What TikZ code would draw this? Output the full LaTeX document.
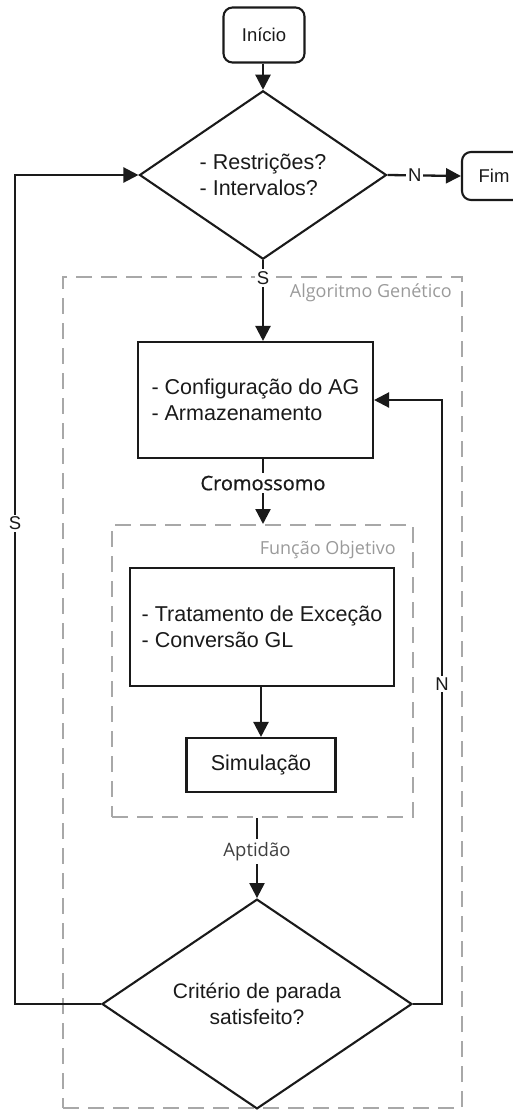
\documentclass[tikz,border=0pt]{standalone}
\usepackage{fontspec}
\setmainfont{Liberation Sans}
\newfontfamily\osans{Open Sans}
\newfontfamily\osansb[FakeBold=0.8]{Open Sans}
\usetikzlibrary{shapes.geometric,arrows.meta}
\definecolor{dashgray}{HTML}{A8A8A8}
\definecolor{lblgray}{HTML}{9A9A9A}
\definecolor{ink}{HTML}{1A1A1A}
\begin{document}
\begin{tikzpicture}[x=1pt,y=-1pt,
  term/.style={draw=ink, line width=2.1pt, rounded corners=9pt, inner sep=0pt, font=\fontsize{18.5}{22}\selectfont, text=ink},
  proc/.style={draw=ink, line width=2.1pt, inner sep=0pt, align=left, font=\fontsize{21.5}{26}\selectfont, text=ink},
  dec/.style={draw=ink, line width=2.1pt, diamond, inner sep=0pt, font=\fontsize{21.5}{26}\selectfont, text=ink},
  group/.style={draw=dashgray, line width=2pt, dash pattern=on 16pt off 9pt, inner sep=0pt},
  grouplbl/.style={text=lblgray, font=\osans\fontsize{18}{22}\selectfont, inner sep=0pt},
  conn/.style={draw=ink, line width=2.3pt, -{Triangle[length=15pt,width=15pt]}},
  lbl/.style={fill=white, inner sep=2pt, font=\fontsize{18.5}{22}\selectfont, text=ink},
  flowlbl/.style={fill=white, inner sep=3pt, font=\osansb\fontsize{20}{24}\selectfont, text=ink}
]
\useasboundingbox (0,0) rectangle (512,1111);

% groups
\node[group, minimum width=399pt, minimum height=831pt] (ag) at (262.5,692.5) {};
\node[grouplbl, anchor=east] (agl) at (452,293) {Algoritmo Genético};
\node[group, minimum width=301pt, minimum height=292pt] (fo) at (262.5,671) {};
\node[grouplbl, anchor=east] (fol) at (396,550) {Função Objetivo};

% nodes
\node[term, minimum width=81pt, minimum height=55pt] (inicio) at (264,35) {Início};
\node[dec, minimum width=247pt, minimum height=116pt, align=left] (d1) at (263,175) {- Restrições?\\- Intervalos?};
\node[term, minimum width=64pt, minimum height=48pt] (fim) at (494,176) {Fim};
\node[proc, minimum width=235pt, minimum height=116pt] (box1) at (255.5,400) {- Configuração do AG\\- Armazenamento};
\node[proc, minimum width=264pt, minimum height=118pt] (box2) at (262,627) {- Tratamento de Exceção\\- Conversão GL};
\node[proc, minimum width=149pt, minimum height=54pt] (sim) at (261,765) {Simulação};
\node[dec, minimum width=310pt, minimum height=156pt, align=center, font=\fontsize{21}{26}\selectfont] (d2) at (257,1004) {Critério de parada\\satisfeito?};

\coordinate (lb) at (15,1004);
\coordinate (lt) at (15,175);
\coordinate (rb) at (442,1004);
\coordinate (rt) at (442,400);

% connectors
\draw[conn] (inicio.south -| d1.north) -- (d1.north);
\draw[conn] (d1.east) -- node[lbl, pos=0.37] {N} (fim.west);
\draw[conn] (d1.south) -- node[lbl, pos=0.22] {S} (d1.south |- box1.north);
\draw[conn] (box1.south -| d1.south) -- node[flowlbl, pos=0.37] {Cromossomo} (fo.north -| d1.south);
\draw[conn] (box2.south -| sim.north) -- (sim.north);
\draw[conn] (d2.north |- fo.south) -- node[flowlbl, pos=0.42, font=\osans\fontsize{18.5}{22}\selectfont, text=black!75] {Aptidão} (d2.north);
\draw[conn] (d2.west) -- (lb) -- node[lbl, pos=0.58] {S} (lt) -- (d1.west);
\draw[conn] (d2.east) -- (rb) -- node[lbl, pos=0.53] {N} (rt) -- (box1.east);
\end{tikzpicture}
\end{document}
